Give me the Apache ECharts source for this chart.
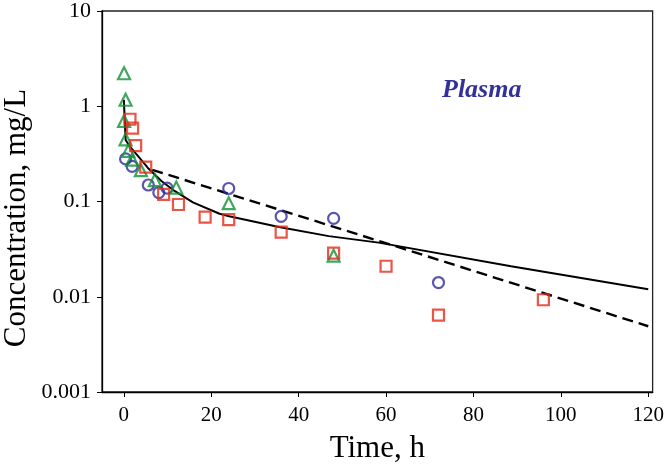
<!DOCTYPE html>
<html>
<head>
<meta charset="utf-8">
<script src="https://cdn.jsdelivr.net/npm/echarts@6/dist/echarts.min.js"></script>
<style>
  html, body { margin: 0; padding: 0; background: #fff; }
  #main { width: 667px; height: 469px; }
</style>
</head>
<body>
<div id="main"></div>
<script>
// tick labels
const xTicks = [0, 20, 40, 60, 80, 100, 120];
const yLabels = ['0.001', '0.01', '0.1', '1', '10'];

// triangles (green)
const triT = [0.05, 0.4, 0.05, 0.4, 1.0, 1.9, 3.9, 7.1, 12, 24, 48];
const triC = [2.22, 1.17, 0.70, 0.45, 0.34, 0.275, 0.213, 0.168, 0.14, 0.096, 0.027];

// circles (blue)
const cirT = [0.4, 1.9, 5.6, 8.0, 9.9, 24, 36, 48, 72];
const cirC = [0.28, 0.234, 0.149, 0.124, 0.138, 0.137, 0.0697, 0.0664, 0.0141];

// squares (red)
const sqT = [1.4, 2.0, 2.7, 5.0, 9.1, 12.5, 18.6, 24, 36, 48, 60, 72, 96];
const sqC = [0.73, 0.59, 0.386, 0.23, 0.119, 0.093, 0.0686, 0.0644, 0.0476, 0.0287, 0.0209, 0.0064, 0.0093];

// fitted curves
const solidT = [0, 0.41, 1.4, 3.3, 5.5, 8.6, 11.6, 15.8, 21.9, 24.1, 35.5, 46.9, 58.3, 88.6, 120];
const solidC = [1.17, 0.442, 0.377, 0.297, 0.225, 0.164, 0.129, 0.098, 0.0743, 0.070, 0.054, 0.0433, 0.037, 0.0209, 0.012];
const dashT = [6.5, 58, 120];
const dashC = [0.215, 0.039, 0.0049];

const pairs = (a, b) => a.map((v, i) => [v, b[i]]);

const chart = echarts.init(document.getElementById('main'));

//散点样式
function markers(name, sym, size, color, t, c) {
  return {
    name: name,
    type: 'scatter',
    symbol: sym,
    symbolSize: size,
    itemStyle: { color: 'rgba(0,0,0,0)', borderColor: color, borderWidth: 2.2 },
    data: pairs(t, c),
    z: 3
  };
}

const option = {
  backgroundColor: '#fff',
  animation: false,
  grid: {
    left: 102, right: 12, top: 7, bottom: 74,
    show: true, borderColor: '#222', borderWidth: 1.3
  },
  xAxis: {
    type: 'value',
    min: -5,
    max: 121,
    name: 'Time, h',
    nameLocation: 'middle',
    nameGap: 41,
    nameTextStyle: { fontFamily: 'Liberation Serif', fontSize: 31, color: '#000' },
    axisLine: { onZero: false, lineStyle: { color: '#000', width: 1.3 } },
    axisTick: { show: true, length: 5, customValues: xTicks, lineStyle: { color: '#000' } },
    axisLabel: {
      customValues: xTicks,
      margin: 13,
      fontFamily: 'Liberation Serif', fontSize: 21, color: '#000'
    },
    splitLine: { show: false }
  },
  yAxis: {
    type: 'log',
    logBase: 10,
    min: 0.001,
    max: 10,
    axisLine: { show: true, onZero: false, lineStyle: { color: '#000', width: 1.3 } },
    axisTick: { show: true, length: 5, lineStyle: { color: '#000' } },
    axisLabel: {
      margin: 11,
      fontFamily: 'Liberation Serif', fontSize: 22, color: '#000',
      formatter: function (v) {
        return yLabels[Math.round(Math.log10(v)) + 3];
      }
    },
    splitLine: { show: false },
    minorTick: { show: false }
  },
  graphic: [
    {
      type: 'text',
      x: 17, y: 218,
      rotation: Math.PI / 2,
      style: {
        text: 'Concentration, mg/L',
        font: '31px "Liberation Serif"',
        fill: '#000',
        textAlign: 'center',
        textVerticalAlign: 'middle'
      }
    },
    {
      type: 'text',
      x: 442, y: 90,
      style: {
        text: 'Plasma',
        font: 'italic bold 26px "Liberation Serif"',
        fill: '#33309a',
        textAlign: 'left',
        textVerticalAlign: 'middle'
      }
    }
  ],
  series: [
    {
      type: 'line',
      data: pairs(solidT, solidC),
      showSymbol: false,
      lineStyle: { color: '#000', width: 2 },
      z: 2
    },
    {
      type: 'line',
      data: pairs(dashT, dashC),
      showSymbol: false,
      lineStyle: { color: '#000', width: 2.4, type: [11, 6] },
      z: 2
    },
    markers('circle', 'circle', 11, '#2f2a9e', cirT, cirC),
    markers('triangle', 'triangle', 12, '#129138', triT, triC),
    markers('square', 'rect', 11, '#e52a18', sqT, sqC)
  ]
};

chart.setOption(option);
</script>
</body>
</html>
